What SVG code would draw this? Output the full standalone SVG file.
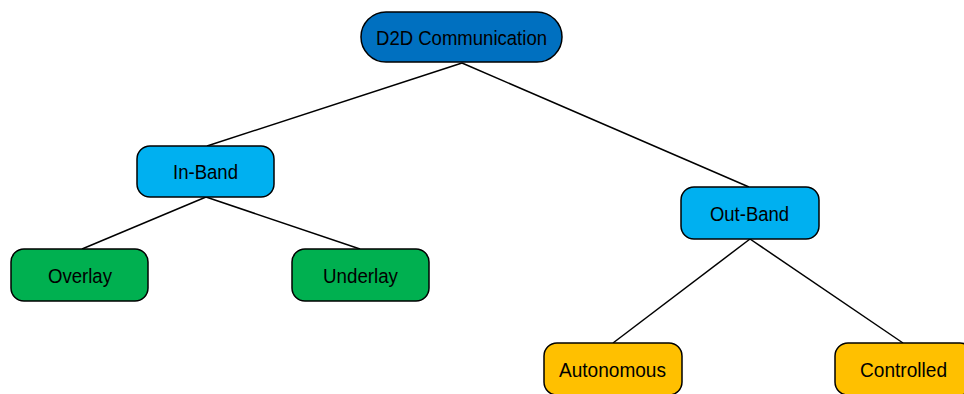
<svg xmlns="http://www.w3.org/2000/svg" width="964" height="394" viewBox="0 0 964 394">
<style>
.n{stroke:#000;stroke-width:1.5}
.t{font-family:"Liberation Sans",Arial,sans-serif;font-size:20.5px;fill:#000;text-anchor:middle}
.c{stroke:#000;stroke-width:1.5;fill:none}
</style>
<rect width="964" height="394" fill="#fff"/>
<g id="connectors">
<line class="c" x1="462" y1="63" x2="207" y2="146"/>
<line class="c" x1="462" y1="63" x2="749" y2="187"/>
<line class="c" x1="206" y1="197" x2="82" y2="249"/>
<line class="c" x1="206" y1="197" x2="360" y2="249"/>
<line class="c" x1="750" y1="239" x2="613" y2="343"/>
<line class="c" x1="750" y1="239" x2="903" y2="343"/>
</g>
<g id="d2d">
<rect class="n" x="361" y="12" width="201" height="50" rx="25" fill="#0070C0"/>
<text class="t" x="461.5" y="45" textLength="171" lengthAdjust="spacingAndGlyphs">D2D Communication</text>
</g>
<g id="inband">
<rect class="n" x="137" y="146" width="137" height="51" rx="13" fill="#00B0F0"/>
<text class="t" x="205.5" y="179" textLength="65" lengthAdjust="spacingAndGlyphs">In-Band</text>
</g>
<g id="outband">
<rect class="n" x="681" y="187" width="138" height="52" rx="13" fill="#00B0F0"/>
<text class="t" x="749.5" y="221" textLength="79" lengthAdjust="spacingAndGlyphs">Out-Band</text>
</g>
<g id="overlay">
<rect class="n" x="11" y="249" width="137" height="52" rx="13" fill="#00B050"/>
<text class="t" x="80" y="283" textLength="64" lengthAdjust="spacingAndGlyphs">Overlay</text>
</g>
<g id="underlay">
<rect class="n" x="292" y="249" width="137" height="52" rx="13" fill="#00B050"/>
<text class="t" x="360.5" y="283" textLength="75" lengthAdjust="spacingAndGlyphs">Underlay</text>
</g>
<g id="autonomous">
<rect class="n" x="544" y="343" width="138" height="52" rx="13" fill="#FFC000"/>
<text class="t" x="612.5" y="377" textLength="107" lengthAdjust="spacingAndGlyphs">Autonomous</text>
</g>
<g id="controlled">
<rect class="n" x="835" y="343" width="138" height="52" rx="13" fill="#FFC000"/>
<text class="t" x="903.5" y="377" textLength="87" lengthAdjust="spacingAndGlyphs">Controlled</text>
</g>
</svg>
